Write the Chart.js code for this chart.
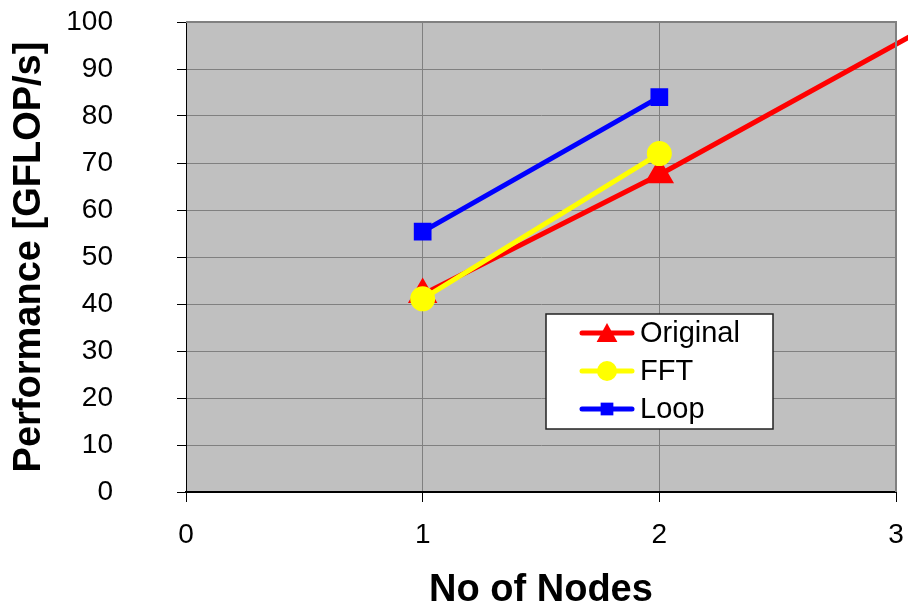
<!DOCTYPE html>
<html>
<head>
<meta charset="utf-8">
<title>Performance vs Nodes</title>
<script src="https://cdn.jsdelivr.net/npm/chart.js@4.4.1/dist/chart.umd.min.js"></script>
<style>
    body { margin: 0; background: #fff; }
    #wrap { width: 908px; height: 610px; }
</style>
</head>
<body>
<div id="wrap"><canvas id="perfChart" width="908" height="610"></canvas></div>
<script>
// values
var originalNodes = [1, 2, 4];
var originalPerf = [42, 67.5, 123];
var fftNodes = [1, 2];
var fftPerf = [41.1, 72];
var loopNodes = [1, 2];
var loopPerf = [55.4, 84];

var seriesNames = ['Original', 'FFT', 'Loop'];
var xTicks = [0, 1, 2, 3];
var yTicks = [0, 10, 20, 30, 40, 50, 60, 70, 80, 90, 100];

function toPoints(xs, ys) {
    return xs.map(function (x, i) { return { x: x, y: ys[i] }; });
}

var FONT = '"Liberation Sans", Arial, Helvetica, sans-serif';

// grey plot area + grey top/right frame
var plotArea = {
    id: 'plotArea',
    beforeDraw: function (chart) {
        var a = chart.chartArea, ctx = chart.ctx;
        ctx.save();
        ctx.fillStyle = '#C0C0C0';
        ctx.fillRect(a.left, a.top, a.right - a.left, a.bottom - a.top);
        ctx.restore();
    },
    afterDraw: function (chart) {
        var a = chart.chartArea, ctx = chart.ctx;
        ctx.save();
        ctx.strokeStyle = '#808080';
        ctx.lineWidth = 2;
        ctx.beginPath();
        ctx.moveTo(a.left, a.top);
        ctx.lineTo(a.right, a.top);
        ctx.lineTo(a.right, a.bottom);
        ctx.stroke();
        ctx.restore();
    }
};

function drawMarker(ctx, style, r, x, y, color) {
    ctx.fillStyle = color;
    ctx.beginPath();
    if (style === 'triangle') {
        var w = r * Math.sqrt(3) / 2, h = r * 1.5;
        ctx.moveTo(x, y - h / 2 - 1);
        ctx.lineTo(x + w, y + h / 2);
        ctx.lineTo(x - w, y + h / 2);
        ctx.closePath();
    } else if (style === 'circle') {
        ctx.arc(x, y, r, 0, Math.PI * 2);
    } else {
        var s = r * Math.SQRT1_2;
        ctx.rect(x - s, y - s, 2 * s, 2 * s);
    }
    ctx.fill();
}

// boxed legend inside the plot, like the spreadsheet one
var boxLegend = {
    id: 'boxLegend',
    afterDraw: function (chart) {
        var ctx = chart.ctx;
        var box = { x: 546, y: 314, w: 227, h: 115 };
        ctx.save();
        ctx.fillStyle = '#fff';
        ctx.fillRect(box.x, box.y, box.w, box.h);
        ctx.strokeStyle = '#222';
        ctx.lineWidth = 1.5;
        ctx.strokeRect(box.x, box.y, box.w, box.h);
        ctx.font = '29px ' + FONT;
        ctx.textBaseline = 'middle';
        [0, 1, 2].forEach(function (idx, row) {
            var ds = chart.data.datasets[idx];
            var cy = 333 + row * 38;
            ctx.strokeStyle = ds.borderColor;
            ctx.lineWidth = 5;
            ctx.lineCap = 'round';
            ctx.beginPath();
            ctx.moveTo(582, cy);
            ctx.lineTo(632, cy);
            ctx.stroke();
            drawMarker(ctx, ds.pointStyle, ds.pointRadius, 607, cy, ds.pointBackgroundColor);
            ctx.fillStyle = '#000';
            ctx.fillText(ds.label, 640, cy + 1);
        });
        ctx.restore();
    }
};

var perfChart = new Chart(document.getElementById('perfChart').getContext('2d'), {
    type: 'line',
    data: {
        datasets: [{
            label: seriesNames[0],
            data: toPoints(originalNodes, originalPerf),
            borderColor: '#FF0000',
            backgroundColor: '#FF0000',
            pointBackgroundColor: '#FF0000',
            pointBorderColor: '#FF0000',
            pointStyle: 'triangle',
            pointRadius: 12,
            borderWidth: 5,
            clip: false,
            order: 2
        }, {
            label: seriesNames[1],
            data: toPoints(fftNodes, fftPerf),
            borderColor: '#FFFF00',
            backgroundColor: '#FFFF00',
            pointBackgroundColor: '#FFFF00',
            pointBorderColor: '#FFFF00',
            pointStyle: 'circle',
            pointRadius: 10,
            borderWidth: 5,
            order: 1
        }, {
            label: seriesNames[2],
            data: toPoints(loopNodes, loopPerf),
            borderColor: '#0000FF',
            backgroundColor: '#0000FF',
            pointBackgroundColor: '#0000FF',
            pointBorderColor: '#0000FF',
            pointStyle: 'rect',
            pointRadius: 9,
            borderWidth: 5,
            order: 0
        }]
    },
    options: {
        responsive: false,
        animation: false,
        devicePixelRatio: 1,
        layout: { autoPadding: false, padding: { top: 22, right: 12, left: 0, bottom: 0 } },
        plugins: {
            legend: { display: false },
            tooltip: { enabled: false }
        },
        elements: {
            line: { tension: 0, borderCapStyle: 'round', borderJoinStyle: 'round' },
            point: { borderWidth: 1 }
        },
        scales: {
            x: {
                type: 'linear',
                min: 0,
                max: 3,
                afterBuildTicks: function (scale) {
                    scale.ticks = xTicks.map(function (v) { return { value: v }; });
                },
                afterFit: function (scale) {
                    scale.height = 118;
                    scale.paddingLeft = 0;
                    scale.paddingRight = 0;
                },
                ticks: {
                    color: '#000',
                    font: { family: FONT, size: 28 },
                    padding: 16,
                    maxRotation: 0
                },
                grid: {
                    color: '#808080',
                    lineWidth: 1,
                    tickColor: '#000',
                    tickLength: 10
                },
                border: { color: '#000', width: 2 },
                title: {
                    display: true,
                    text: 'No of Nodes',
                    color: '#000',
                    font: { family: FONT, size: 38, weight: 'bold', lineHeight: 1 },
                    padding: { top: 0, bottom: 0 }
                }
            },
            y: {
                min: 0,
                max: 100,
                afterBuildTicks: function (scale) {
                    scale.ticks = yTicks.map(function (v) { return { value: v }; });
                },
                afterFit: function (scale) {
                    scale.width = 186;
                    scale.paddingTop = 18;
                    scale.paddingBottom = 18;
                },
                ticks: {
                    color: '#000',
                    font: { family: FONT, size: 28 },
                    padding: 64
                },
                grid: {
                    color: '#808080',
                    lineWidth: 1,
                    tickColor: '#000',
                    tickLength: 9
                },
                border: { color: '#000', width: 1 },
                title: {
                    display: true,
                    text: 'Performance [GFLOP/s]',
                    color: '#000',
                    font: { family: FONT, size: 38, weight: 'bold', lineHeight: 1.2 },
                    padding: { top: 7, bottom: 0 }
                }
            }
        }
    },
    plugins: [plotArea, boxLegend]
});
</script>
</body>
</html>
